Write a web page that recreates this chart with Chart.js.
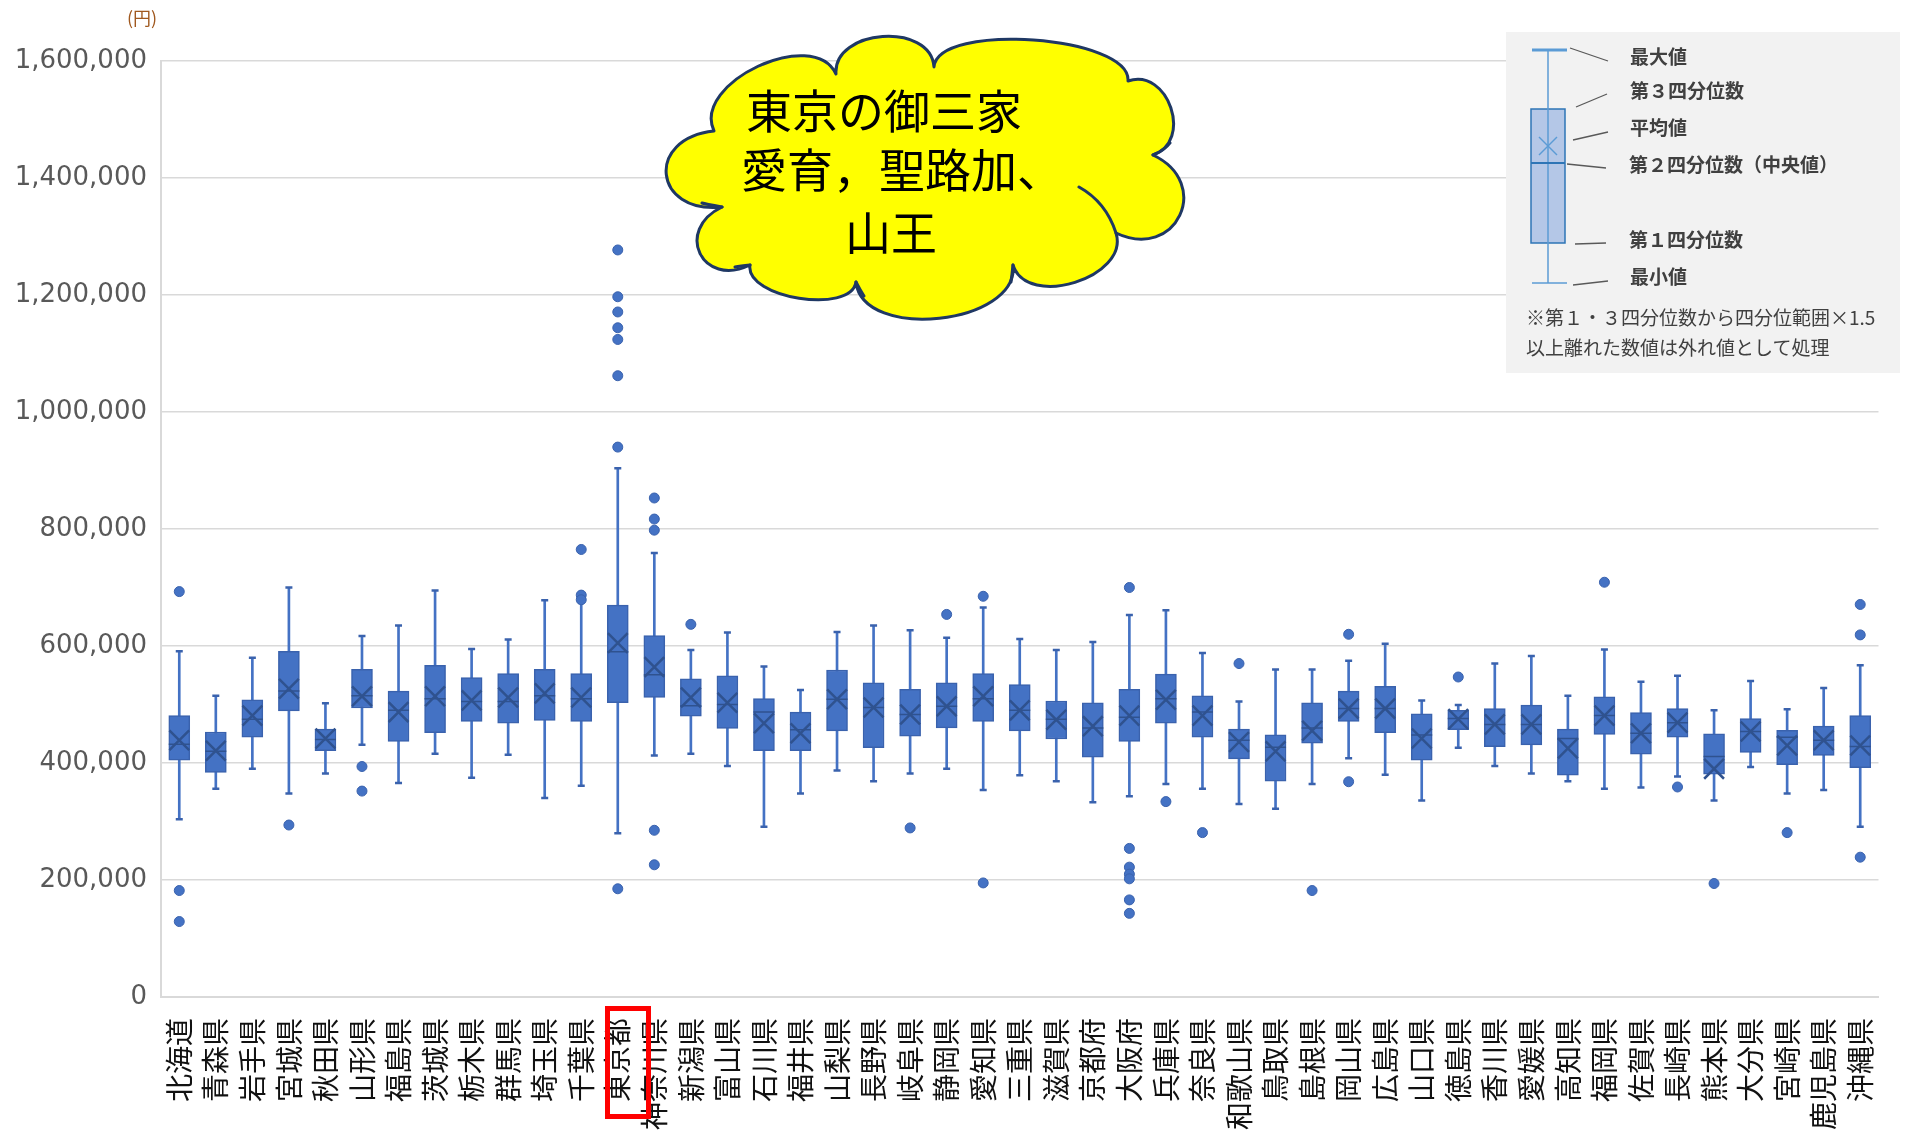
<!DOCTYPE html>
<html lang="ja">
<head>
<meta charset="utf-8">
<title>都道府県別 箱ひげ図</title>
<script src="https://cdn.jsdelivr.net/npm/chart.js@4.4.1/dist/chart.umd.min.js"></script>
<style>
  html, body { margin: 0; padding: 0; background: #fff; }
  #wrap { position: relative; width: 1915px; height: 1131px; overflow: hidden; }
  #boxChart { position: absolute; left: 0; top: 0; }
  #overlay { position: absolute; left: 0; top: 0; pointer-events: none; }
  #overlay text { font-family: "Noto Sans CJK JP", sans-serif; }
</style>
</head>
<body>
<div id="wrap">
  <canvas id="boxChart" width="1915" height="1131"></canvas>
  <svg id="overlay" width="1915" height="1131" viewBox="0 0 1915 1131">
    <!-- 単位 -->
    <text x="127" y="25" font-size="18" fill="#A0581E">(円)</text>

    <!-- 吹き出し（雲） -->
    <path id="cloud" fill="#FFFF00" stroke="#1F3864" stroke-width="3" stroke-linejoin="round"></path>
    <path id="cloudFolds" fill="none" stroke="#1F3864" stroke-width="3" stroke-linecap="round"></path>
    <text x="746" y="128" font-size="46" fill="#000">東京の御三家</text>
    <text x="741" y="187" font-size="46" fill="#000">愛育，聖路加、</text>
    <text x="845" y="250" font-size="46" fill="#000">山王</text>

    <!-- 凡例 -->
    <rect x="1506" y="32" width="394" height="341" fill="#F2F2F2"></rect>
    <rect x="1531" y="109" width="34" height="134" fill="#B4C7E7" stroke="#2E75B6" stroke-width="1.5"></rect>
    <line x1="1548" y1="50" x2="1548" y2="283" stroke="#5B9BD5" stroke-width="1.5"></line>
    <line x1="1532" y1="50" x2="1567" y2="50" stroke="#5B9BD5" stroke-width="3"></line>
    <line x1="1532" y1="283" x2="1567" y2="283" stroke="#5B9BD5" stroke-width="1.5"></line>
    <line x1="1531" y1="163" x2="1565" y2="163" stroke="#2E75B6" stroke-width="2"></line>
    <line x1="1539" y1="137" x2="1557" y2="155" stroke="#5B9BD5" stroke-width="1.5"></line>
    <line x1="1557" y1="137" x2="1539" y2="155" stroke="#5B9BD5" stroke-width="1.5"></line>
    <g stroke="#595959" stroke-width="1.3">
      <line x1="1570" y1="48" x2="1608" y2="61"></line>
      <line x1="1576" y1="107" x2="1607" y2="94"></line>
      <line x1="1573" y1="140" x2="1608" y2="132"></line>
      <line x1="1567" y1="164" x2="1606" y2="168"></line>
      <line x1="1575" y1="244" x2="1606" y2="243"></line>
      <line x1="1573" y1="285" x2="1608" y2="281"></line>
    </g>
    <g font-size="19" font-weight="bold" fill="#404040">
      <text x="1630" y="64">最大値</text>
      <text x="1630" y="98">第３四分位数</text>
      <text x="1630" y="135">平均値</text>
      <text x="1629" y="172">第２四分位数（中央値）</text>
      <text x="1629" y="247">第１四分位数</text>
      <text x="1630" y="284">最小値</text>
    </g>
    <g font-size="19" fill="#404040">
      <text x="1526" y="325">※第１・３四分位数から四分位範囲×1.5</text>
      <text x="1526" y="355">以上離れた数値は外れ値として処理</text>
    </g>

    <!-- 東京都の強調枠 -->
    <rect x="607.5" y="1008.5" width="41" height="108" fill="none" stroke="#FF0000" stroke-width="5"></rect>
  </svg>
</div>
<script>
// 都道府県別の箱ひげ図（円）
const prefectures = [
  "北海道", "青森県", "岩手県", "宮城県", "秋田県", "山形県", "福島県", "茨城県",
  "栃木県", "群馬県", "埼玉県", "千葉県", "東京都", "神奈川県", "新潟県", "富山県",
  "石川県", "福井県", "山梨県", "長野県", "岐阜県", "静岡県", "愛知県", "三重県",
  "滋賀県", "京都府", "大阪府", "兵庫県", "奈良県", "和歌山県", "鳥取県", "島根県",
  "岡山県", "広島県", "山口県", "徳島県", "香川県", "愛媛県", "高知県", "福岡県",
  "佐賀県", "長崎県", "熊本県", "大分県", "宮崎県", "鹿児島県", "沖縄県"
];

const minValues = [
  304000, 356000, 390000, 348000, 382000, 431000, 366000, 416000,
  375000, 414000, 340000, 361000, 280000, 413000, 416000, 395000,
  291000, 348000, 387000, 369000, 382000, 390000, 354000, 379000,
  369000, 333000, 343000, 364000, 356000, 330000, 322000, 364000,
  408000, 380000, 336000, 426000, 395000, 382000, 369000, 356000,
  358000, 377000, 336000, 393000, 348000, 354000, 291000
];

const q1Values = [
  405000, 384000, 444000, 489000, 421000, 494000, 437000, 452000,
  471000, 468000, 473000, 471000, 503000, 512000, 480000, 459000,
  421000, 421000, 455000, 426000, 446000, 460000, 471000, 455000,
  441000, 410000, 437000, 468000, 444000, 407000, 369000, 434000,
  471000, 452000, 405000, 457000, 428000, 431000, 379000, 449000,
  415000, 444000, 381000, 418000, 397000, 413000, 392000
];

const medianValues = [
  432000, 420000, 475000, 523000, 440000, 515000, 490000, 510000,
  505000, 505000, 515000, 510000, 590000, 551000, 498000, 500000,
  487000, 457000, 509000, 495000, 483000, 497000, 510000, 490000,
  475000, 460000, 478000, 510000, 487000, 439000, 427000, 460000,
  493000, 493000, 448000, 476000, 466000, 466000, 442000, 481000,
  451000, 469000, 411000, 454000, 444000, 439000, 428000
];

const q3Values = [
  481000, 453000, 508000, 591000, 458000, 560000, 523000, 567000,
  546000, 553000, 560000, 553000, 670000, 618000, 544000, 549000,
  510000, 487000, 559000, 537000, 526000, 537000, 553000, 534000,
  506000, 503000, 526000, 552000, 515000, 458000, 448000, 503000,
  523000, 531000, 484000, 490000, 493000, 499000, 458000, 513000,
  486000, 493000, 450000, 476000, 456000, 463000, 481000
];

const maxValues = [
  591000, 515000, 580000, 700000, 502000, 617000, 635000, 695000,
  595000, 611000, 678000, 677000, 904000, 759000, 593000, 623000,
  565000, 525000, 624000, 635000, 627000, 614000, 666000, 612000,
  593000, 607000, 653000, 661000, 588000, 505000, 560000, 560000,
  575000, 604000, 507000, 499000, 570000, 583000, 515000, 594000,
  539000, 549000, 490000, 540000, 492000, 528000, 567000
];

const meanValues = [
  439000, 421000, 481000, 527000, 442000, 514000, 487000, 514000,
  507000, 512000, 519000, 512000, 605000, 564000, 512000, 503000,
  468000, 451000, 509000, 495000, 483000, 497000, 514000, 490000,
  474000, 463000, 481000, 508000, 481000, 436000, 420000, 455000,
  493000, 493000, 442000, 475000, 466000, 466000, 425000, 481000,
  451000, 469000, 390000, 454000, 430000, 439000, 430000
];

// 外れ値
const outlierPrefs = [
  "北海道", "北海道", "北海道", "宮城県", "山形県", "山形県",
  "千葉県", "千葉県", "千葉県",
  "東京都", "東京都", "東京都", "東京都", "東京都", "東京都", "東京都", "東京都",
  "神奈川県", "神奈川県", "神奈川県", "神奈川県", "神奈川県",
  "新潟県", "岐阜県", "静岡県", "愛知県", "愛知県",
  "大阪府", "大阪府", "大阪府", "大阪府", "大阪府", "大阪府", "大阪府",
  "兵庫県", "奈良県", "和歌山県", "島根県", "岡山県", "岡山県", "徳島県",
  "福岡県", "長崎県", "熊本県", "宮崎県", "沖縄県", "沖縄県", "沖縄県"
];
const outlierValues = [
  693000, 182000, 129000, 294000, 394000, 352000,
  765000, 687000, 679000,
  1277000, 1197000, 1171000, 1144000, 1124000, 1062000, 940000, 185000,
  853000, 817000, 798000, 285000, 226000,
  637000, 289000, 654000, 685000, 195000,
  700000, 254000, 222000, 210000, 202000, 166000, 143000,
  334000, 281000, 570000, 182000, 620000, 368000, 547000,
  709000, 359000, 194000, 281000, 671000, 619000, 239000
];

const yMin = 0;
const yMax = 1600000;
const yStep = 200000;

const BOX_BLUE = "#4472C4";
const BOX_EDGE = "#3A62AD";
const MARK_DARK = "#2F528F";

const whiskerData = prefectures.map((p, i) => [minValues[i], maxValues[i]]);
const boxData = prefectures.map((p, i) => [q1Values[i], q3Values[i]]);
const outlierData = outlierPrefs.map((p, i) => ({ x: p, y: outlierValues[i] }));

function markerSet(label, data, style, radius, color, width, order) {
  return {
    type: "line",
    label: label,
    data: data,
    showLine: false,
    pointStyle: style,
    pointRadius: radius,
    pointHoverRadius: radius,
    pointBorderColor: color,
    pointBackgroundColor: color,
    pointBorderWidth: width,
    borderColor: color,
    backgroundColor: color,
    order: order,
  };
}

const ctx = document.getElementById("boxChart").getContext("2d");

new Chart(ctx, {
  type: "bar",
  data: {
    labels: prefectures,
    datasets: [
      {
        label: "ひげ",
        data: whiskerData,
        backgroundColor: BOX_BLUE,
        borderWidth: 0,
        barThickness: 2,
        grouped: false,
        order: 7,
      },
      {
        label: "箱",
        data: boxData,
        backgroundColor: BOX_BLUE,
        borderColor: BOX_EDGE,
        borderWidth: 1.5,
        borderSkipped: false,
        barThickness: 21,
        grouped: false,
        order: 6,
      },
      markerSet("最大値", maxValues, "line", 3.5, BOX_EDGE, 2.5, 5),
      markerSet("最小値", minValues, "line", 3.5, BOX_EDGE, 2.5, 4),
      markerSet("中央値", medianValues, "line", 10.5, MARK_DARK, 1.5, 3),
      markerSet("平均値", meanValues, "crossRot", 14, MARK_DARK, 2.5, 2),
      {
        type: "line",
        label: "外れ値",
        data: outlierData,
        showLine: false,
        pointStyle: "circle",
        pointRadius: 5,
        pointHoverRadius: 5,
        pointBackgroundColor: BOX_BLUE,
        pointBorderColor: BOX_EDGE,
        pointBorderWidth: 1,
        order: 1,
      },
    ],
  },
  options: {
    responsive: false,
    animation: false,
    layout: { padding: { top: 61, right: 2, left: 0, bottom: 0 } },
    plugins: {
      legend: { display: false },
      tooltip: { enabled: true },
    },
    scales: {
      x: {
        grid: { display: false, drawTicks: false },
        border: { display: true, color: "#D9D9D9", width: 2 },
        ticks: {
          autoSkip: false,
          minRotation: 90,
          maxRotation: 90,
          padding: 21,
          color: "#111",
          font: { family: '"Noto Sans CJK JP"', size: 28 },
        },
        afterFit: (scale) => { scale.height = 134; },
      },
      y: {
        min: yMin,
        max: yMax,
        grid: { color: "#D9D9D9", lineWidth: 1.5, drawTicks: false },
        border: { display: true, color: "#D9D9D9", width: 2 },
        ticks: {
          stepSize: yStep,
          padding: 14,
          color: "#595959",
          font: { family: '"DejaVu Sans"', size: 26 },
          callback: (v) => v.toLocaleString("en-US"),
        },
        afterFit: (scale) => { scale.width = 161; },
      },
    },
  },
});

// 吹き出しの輪郭
const cloudPts = [
  [722, 207], [714, 131], [836, 74], [934, 67], [1128, 81],
  [1153, 155], [1116, 233], [1013, 265], [856, 282], [750, 265]
];
const cloudBulge = [52, 40, 34, 34, 32, 50, 35, 45, 25, 40];

function cloudPath(pts, bulges) {
  let d = `M ${pts[0][0]} ${pts[0][1]}`;
  for (let i = 0; i < pts.length; i++) {
    const [x1, y1] = pts[i];
    const [x2, y2] = pts[(i + 1) % pts.length];
    const len = Math.hypot(x2 - x1, y2 - y1);
    const nx = (y2 - y1) / len;
    const ny = -(x2 - x1) / len;
    const k = bulges[i] * 4 / 3;
    d += ` C ${x1 + nx * k} ${y1 + ny * k} ${x2 + nx * k} ${y2 + ny * k} ${x2} ${y2}`;
  }
  return d + " Z";
}

document.getElementById("cloud").setAttribute("d", cloudPath(cloudPts, cloudBulge));
document.getElementById("cloudFolds").setAttribute("d",
  "M 1079 187 Q 1106 202 1116 233 " +
  "M 722 207 Q 705 204 702 203 " +
  "M 1013 265 Q 1012 275 1011 282 " +
  "M 856 282 Q 860 290 864 296 " +
  "M 750 265 Q 740 266 735 267 " +
  "M 1153 155 Q 1165 150 1170 143"
);
</script>
</body>
</html>
